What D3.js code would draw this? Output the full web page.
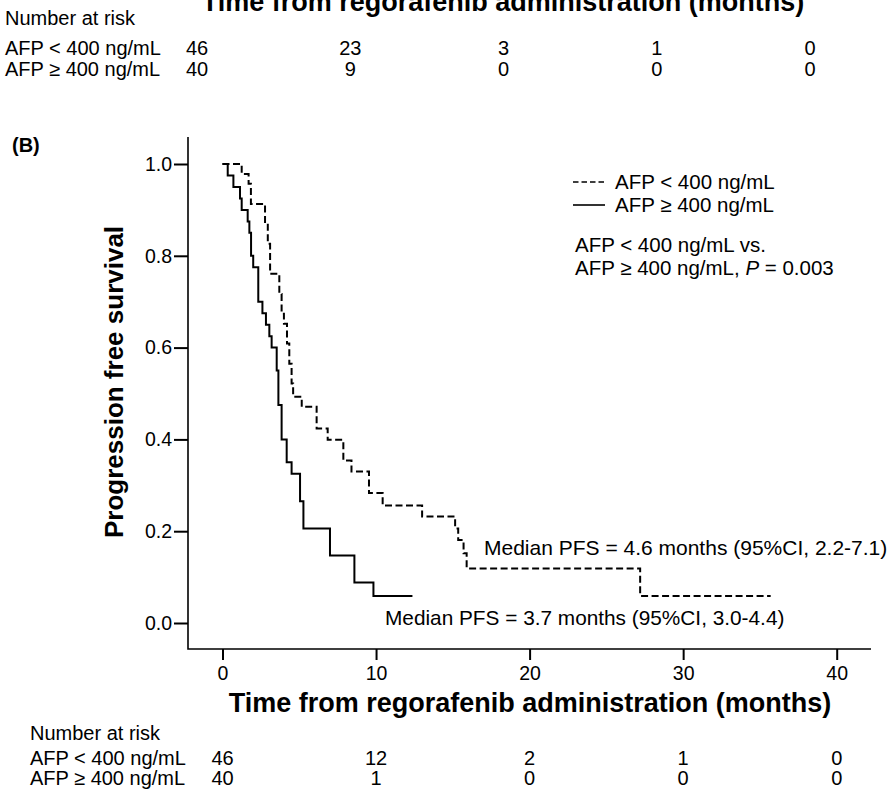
<!DOCTYPE html>
<html>
<head>
<meta charset="utf-8">
<script src="https://cdn.jsdelivr.net/npm/d3@7"></script>
<style>
  body { margin: 0; background: #fff; }
  text { font-family: "Liberation Sans", Arial, sans-serif; fill: #000; }
</style>
</head>
<body>
<div id="chart"></div>
<script>
// Data
const xTicks = [0, 10, 20, 30, 40];
const yTicks = [0, 0.2, 0.4, 0.6, 0.8, 1.0];
const groupLabels = ["AFP < 400 ng/mL", "AFP \u2265 400 ng/mL"];

// AFP < 400 (dashed) Kaplan-Meier steps
const timeLow = [0, 1.25, 1.7, 1.85, 2.77, 2.95, 3.1, 3.7, 3.85, 4.0, 4.2, 4.35, 4.5, 4.6, 5.16, 6.13, 6.85, 7.87, 8.4, 9.54, 10.43, 13.0, 15.15, 15.35, 15.7, 15.9, 27.2, 35.7];
const survLow = [1.0, 0.978, 0.957, 0.913, 0.87, 0.826, 0.761, 0.717, 0.674, 0.652, 0.609, 0.565, 0.522, 0.493, 0.471, 0.424, 0.399, 0.354, 0.33, 0.283, 0.256, 0.232, 0.206, 0.181, 0.152, 0.119, 0.059, 0.059];

// AFP >= 400 (solid) Kaplan-Meier steps
const timeHigh = [0, 0.34, 0.71, 1.14, 1.25, 1.64, 1.75, 1.86, 2.0, 2.33, 2.6, 2.83, 3.05, 3.2, 3.53, 3.64, 3.85, 4.18, 4.5, 5.05, 5.27, 7.0, 8.59, 9.83, 12.37];
const survHigh = [1.0, 0.975, 0.95, 0.925, 0.9, 0.875, 0.85, 0.8, 0.775, 0.7, 0.675, 0.65, 0.625, 0.6, 0.55, 0.475, 0.4, 0.35, 0.325, 0.265, 0.206, 0.147, 0.088, 0.059, 0.059];

// Number at risk tables (panel A remnant on top, panel B at bottom)
const riskTopLow = [46, 23, 3, 1, 0];
const riskTopHigh = [40, 9, 0, 0, 0];
const riskLow = [46, 12, 2, 1, 0];
const riskHigh = [40, 1, 0, 0, 0];

const medianLow = "Median PFS = 4.6 months (95%CI, 2.2-7.1)";
const medianHigh = "Median PFS = 3.7 months (95%CI, 3.0-4.4)";
const xTitle = "Time from regorafenib administration (months)";

const W = 896, H = 792;
const svg = d3.select("#chart").append("svg")
    .attr("width", W)
    .attr("height", H);

// Scales
const x = d3.scaleLinear().domain([0, 40]).range([222.5, 836.7]);
const y = d3.scaleLinear().domain([0, 1]).range([623, 164]);
const xTop = d3.scaleLinear().domain([0, 40]).range([197, 810]);

// ---- top remnant of panel A ----
svg.append("text")
    .attr("x", 503).attr("y", 11)
    .attr("text-anchor", "middle")
    .style("font-size", "27px").style("font-weight", "bold")
    .text(xTitle);

svg.append("text").attr("x", 5).attr("y", 25).style("font-size", "20px").text("Number at risk");
[riskTopLow, riskTopHigh].forEach((row, i) => {
    const yy = 55 + i * 21;
    svg.append("text").attr("x", 5).attr("y", yy).style("font-size", "20px").text(groupLabels[i]);
    svg.selectAll(null).data(row).enter().append("text")
        .attr("x", (d, j) => xTop(xTicks[j]))
        .attr("y", yy)
        .attr("text-anchor", "middle")
        .style("font-size", "20px")
        .text(d => d);
});

// ---- panel B ----
svg.append("text")
    .attr("x", 12).attr("y", 152)
    .style("font-size", "20px").style("font-weight", "bold")
    .text("(B)");

// Axes
const yAxis = svg.append("g")
    .attr("transform", "translate(188,0)")
    .call(d3.axisLeft(y).tickValues(yTicks).tickFormat(d3.format(".1f")).tickSize(14).tickPadding(2))
    .call(g => g.select(".domain").remove());
yAxis.selectAll("line").attr("stroke", "#000").attr("stroke-width", 2);
yAxis.selectAll("text").style("font-size", "19.5px").attr("font-family", null);

const xAxis = svg.append("g")
    .attr("transform", "translate(0,649)")
    .call(d3.axisBottom(x).tickValues(xTicks).tickSize(11).tickPadding(6))
    .call(g => g.select(".domain").remove());
xAxis.selectAll("line").attr("stroke", "#000").attr("stroke-width", 2);
xAxis.selectAll("text").style("font-size", "19.5px").attr("font-family", null);

svg.append("path")
    .attr("d", "M188,137V649H871")
    .attr("fill", "none")
    .attr("stroke", "#000")
    .attr("stroke-width", 1.6);

// Axis titles
svg.append("text")
    .attr("transform", "translate(123,382) rotate(-90)")
    .attr("text-anchor", "middle")
    .style("font-size", "26px").style("font-weight", "bold")
    .text("Progression free survival");

svg.append("text")
    .attr("x", 530).attr("y", 712)
    .attr("text-anchor", "middle")
    .style("font-size", "27px").style("font-weight", "bold")
    .text(xTitle);

// Curves
const line = d3.line()
    .x(d => x(d[0]))
    .y(d => y(d[1]))
    .curve(d3.curveStepAfter);

svg.append("path")
    .datum(d3.zip(timeLow, survLow))
    .attr("d", line)
    .attr("fill", "none")
    .attr("stroke", "#000")
    .attr("stroke-width", 2)
    .attr("stroke-dasharray", "7,3.5");

svg.append("path")
    .datum(d3.zip(timeHigh, survHigh))
    .attr("d", line)
    .attr("fill", "none")
    .attr("stroke", "#000")
    .attr("stroke-width", 2);

// Median annotations
svg.append("text").attr("x", 484).attr("y", 555).style("font-size", "21px").text(medianLow);
svg.append("text").attr("x", 385).attr("y", 625).style("font-size", "20.8px").text(medianHigh);

// Legend
const legend = svg.append("g");
legend.append("line").attr("x1", 573).attr("x2", 605).attr("y1", 182).attr("y2", 182)
    .attr("stroke", "#000").attr("stroke-width", 1.6).attr("stroke-dasharray", "5.5,3");
legend.append("line").attr("x1", 573).attr("x2", 605).attr("y1", 205).attr("y2", 205)
    .attr("stroke", "#000").attr("stroke-width", 1.6);
groupLabels.forEach((lab, i) => {
    legend.append("text").attr("x", 615).attr("y", 189 + i * 23).style("font-size", "20.5px").text(lab);
});
legend.append("text").attr("x", 575).attr("y", 252).style("font-size", "20.5px").text("AFP < 400 ng/mL  vs.");
const pText = legend.append("text").attr("x", 575).attr("y", 275).style("font-size", "20.5px");
pText.append("tspan").text("AFP \u2265 400 ng/mL, ");
pText.append("tspan").style("font-style", "italic").text("P");
pText.append("tspan").text(" = 0.003");

// Number at risk, panel B
svg.append("text").attr("x", 30).attr("y", 740).style("font-size", "20px").text("Number at risk");
[riskLow, riskHigh].forEach((row, i) => {
    const yy = 765 + i * 20;
    svg.append("text").attr("x", 30).attr("y", yy).style("font-size", "20px").text(groupLabels[i]);
    svg.selectAll(null).data(row).enter().append("text")
        .attr("x", (d, j) => x(xTicks[j]))
        .attr("y", yy)
        .attr("text-anchor", "middle")
        .style("font-size", "20px")
        .text(d => d);
});
</script>
</body>
</html>
